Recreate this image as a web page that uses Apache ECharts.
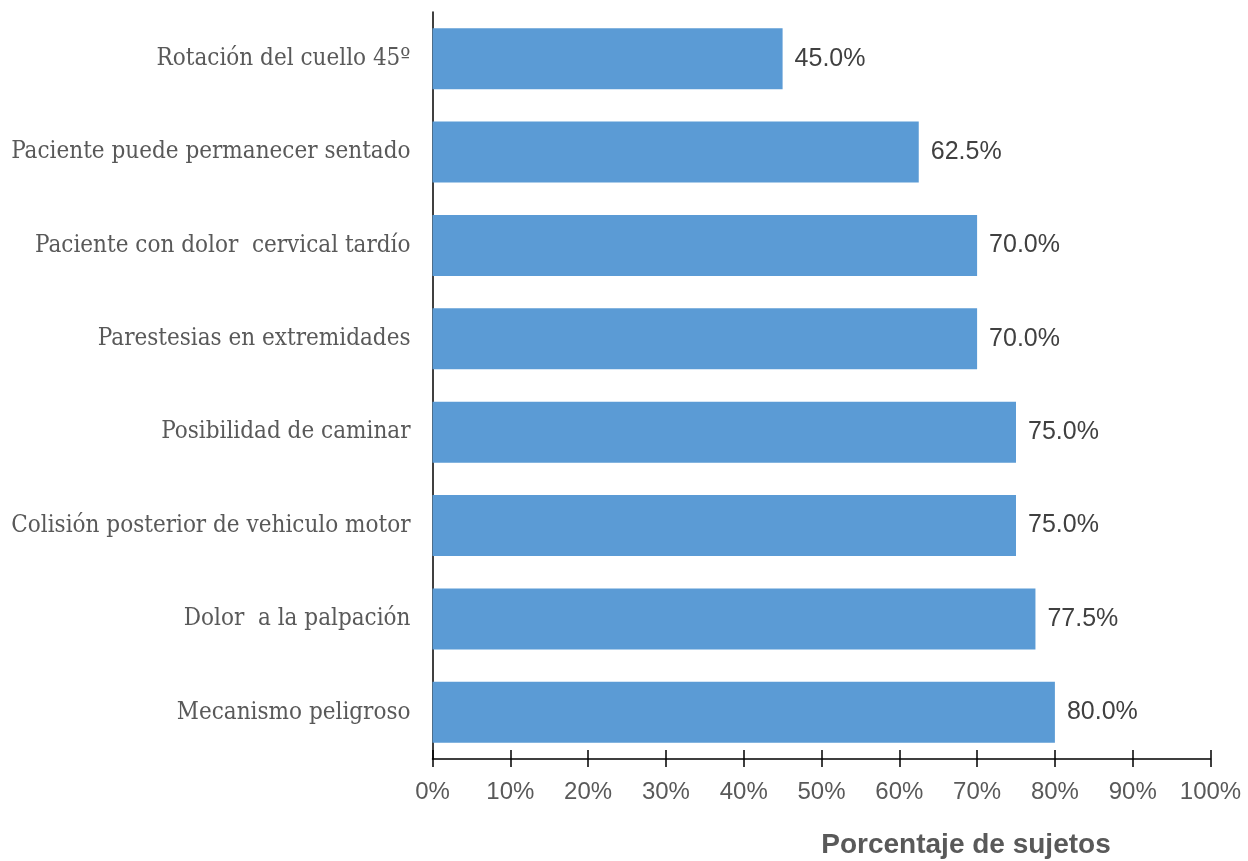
<!DOCTYPE html>
<html>
<head>
<meta charset="utf-8">
<script src="https://cdn.jsdelivr.net/npm/echarts@6/dist/echarts.min.js"></script>
<style>
  html, body { margin: 0; padding: 0; background: #ffffff; }
  #chart { width: 1248px; height: 861px; }
</style>
</head>
<body>
<div id="chart"></div>
<script>
// Criteria, listed top to bottom
const categories = [
  'Rotación del cuello 45º',
  'Paciente puede permanecer sentado',
  'Paciente con dolor  cervical tardío',
  'Parestesias en extremidades',
  'Posibilidad de caminar',
  'Colisión posterior de vehiculo motor',
  'Dolor  a la palpación',
  'Mecanismo peligroso'
];
// Share of subjects (%)
const percentages = [45.0, 62.5, 70.0, 70.0, 75.0, 75.0, 77.5, 80.0];
// Axis ticks (%)
const tickValues = [0, 10, 20, 30, 40, 50, 60, 70, 80, 90, 100];
const axisTitle = 'Porcentaje de sujetos';

const chart = echarts.init(document.getElementById('chart'), null, { renderer: 'canvas' });

const xBase = {
  type: 'value',
  min: tickValues[0],
  max: tickValues[tickValues.length - 1],
  interval: tickValues[1] - tickValues[0],
  position: 'bottom',
  splitLine: { show: false }
};

chart.setOption({
  backgroundColor: '#ffffff',
  animation: false,
  title: {
    text: axisTitle,
    left: 961,
    top: 826,
    textAlign: 'center',
    textStyle: {
      fontFamily: 'Liberation Sans',
      fontSize: 28,
      fontWeight: 'bold',
      color: '#595959'
    }
  },
  grid: { left: 432.5, right: 37.5, top: 12, bottom: 102, containLabel: false },
  xAxis: [
    Object.assign({}, xBase, {
      axisLine: { show: true, lineStyle: { color: '#000000', width: 1.5 } },
      axisTick: { show: true, inside: false, length: 8, lineStyle: { color: '#000000', width: 1.5 } },
      axisLabel: {
        show: true,
        margin: 21,
        fontFamily: 'Liberation Sans',
        fontSize: 24,
        color: '#595959',
        formatter: v => v + '%'
      }
    }),
    Object.assign({}, xBase, {
      axisLine: { show: false },
      axisTick: { show: true, inside: true, length: 9, lineStyle: { color: '#000000', width: 1.5 } },
      axisLabel: { show: false }
    })
  ],
  yAxis: {
    type: 'category',
    data: categories,
    inverse: true,
    axisLine: { show: true, lineStyle: { color: '#000000', width: 1.5 } },
    axisTick: { show: false },
    splitLine: { show: false },
    axisLabel: {
      margin: 22,
      fontFamily: '"DejaVu Serif Condensed", "DejaVu Serif", serif',
      fontSize: 24,
      color: '#595959'
    }
  },
  series: [{
    type: 'bar',
    xAxisIndex: 0,
    data: percentages,
    barWidth: 61,
    itemStyle: { color: '#5B9BD5' },
    label: {
      show: true,
      position: 'right',
      distance: 12,
      fontFamily: 'Liberation Sans',
      fontSize: 25,
      color: '#404040',
      formatter: p => p.value.toFixed(1) + '%'
    }
  }]
});
</script>
</body>
</html>
